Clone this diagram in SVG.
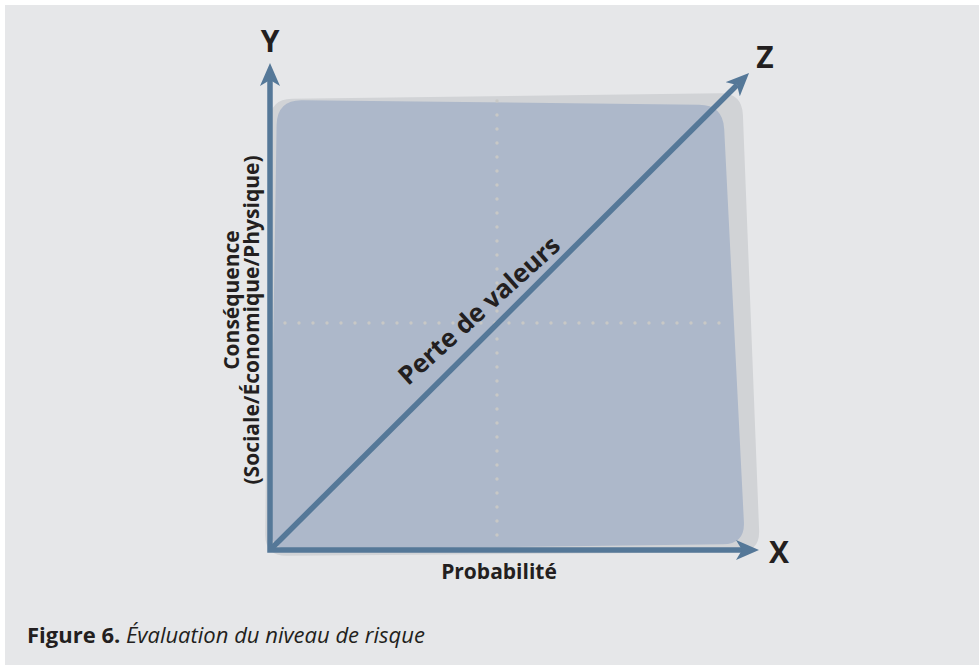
<svg xmlns="http://www.w3.org/2000/svg" width="979" height="665" viewBox="0 0 979 665">
<style>
.lbl{font-family:"Open Sans","Liberation Sans",sans-serif;font-weight:bold;fill:#231f20}
.axl{font-size:30px;text-anchor:middle}
.sub{font-size:21px;text-anchor:middle}
.axis{fill:none;stroke:#557898;stroke-width:5.5;stroke-linejoin:miter}
.dots{fill:none;stroke:#c8c8c6;stroke-width:3.4;stroke-linecap:round;stroke-dasharray:0 14}
</style>
<defs>
<marker id="arr" viewBox="0 0 23 20" markerWidth="23" markerHeight="20" refX="6" refY="10" markerUnits="userSpaceOnUse" orient="auto-start-reverse">
<path d="M0,0 L23,10 L0,20 L6,10 Z" fill="#557898"/>
</marker>
</defs>
<rect x="0" y="0" width="979" height="665" fill="#ffffff"/>
<rect x="5" y="5" width="974" height="660" fill="#e6e7e9"/>
<g id="plane">
<path d="M292,98.7 L720,93.3 Q742,93 742.9,115 L759.1,530 Q760,552 738,552.2 L287,555.8 Q265,556 265.2,534 L269.8,121 Q270,99 292,98.7 Z" fill="#d1d3d6"/>
<path d="M302,100.2 L699,104.75 Q723,105 724.2,129 L743.9,522 Q745,544 723,544.3 L292,549.7 Q270,550 270.3,528 L276.6,125 Q277,100 302,100.2 Z" fill="#adb8ca"/>
<path class="dots" d="M497,101 L497,548 M271,323 L722,323"/>
</g>
<g id="connectors">
<path class="axis" d="M270,80 L270,550 L742,550" marker-start="url(#arr)" marker-end="url(#arr)"/>
<path class="axis" d="M270,550 L737,85" marker-end="url(#arr)"/>
</g>
<g id="axis-y"><text class="lbl axl" x="270" y="52">Y</text></g>
<g id="axis-z"><text class="lbl axl" x="765" y="68">Z</text></g>
<g id="axis-x"><text class="lbl axl" x="779" y="563">X</text></g>
<g id="label-x"><text class="lbl sub" x="499" y="579">Probabilité</text></g>
<g id="label-y">
<text class="lbl sub" transform="translate(239,300) rotate(-90)">Conséquence</text>
<text class="lbl sub" transform="translate(259,320) rotate(-90)">(Sociale/Économique/Physique)</text>
</g>
<g id="label-z"><text class="lbl" font-size="25.5" text-anchor="middle" transform="translate(485,317) rotate(-42)">Perte de valeurs</text></g>
<g id="caption"><text font-family="'Open Sans','Liberation Sans',sans-serif" font-size="22" fill="#231f20" x="27" y="643"><tspan font-weight="bold">Figure 6.</tspan> <tspan font-style="italic">Évaluation du niveau de risque</tspan></text></g>
</svg>
